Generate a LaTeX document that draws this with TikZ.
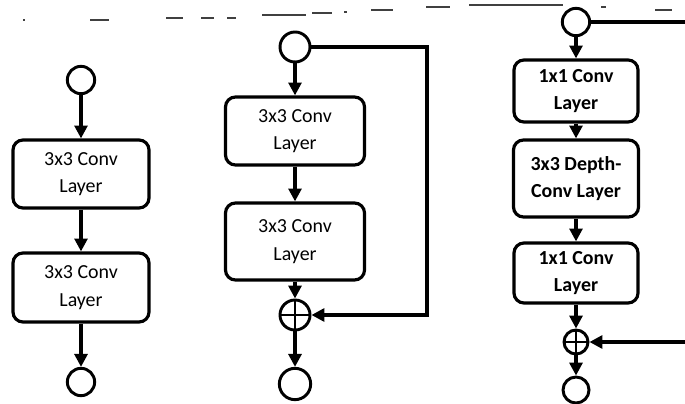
\documentclass[tikz,border=0pt]{standalone}
\usepackage{fontspec}
\setmainfont{Carlito}
\usetikzlibrary{arrows.meta}
\tikzset{
  layer/.style={draw, rounded corners=8.5pt, line width=2.7pt, align=center, inner sep=1pt, font=\fontsize{17}{23.5}\selectfont},
  port/.style={draw, circle, line width=2.5pt, inner sep=0pt, minimum size=0.82cm},
  addop/.style={port, path picture={\draw[line width=2.5pt] (path picture bounding box.north) -- (path picture bounding box.south) (path picture bounding box.west) -- (path picture bounding box.east);}},
  flow/.style={line width=2.7pt, -{Triangle[length=11pt,width=11pt]}},
  link/.style={line width=2.7pt},
  speck/.style={black!75, line width=0.9pt}
}
\begin{document}
\begin{tikzpicture}[x=0.03cm, y=-0.03cm]
\useasboundingbox (0,0) rectangle (685,404);
\draw[speck] (23,20)--(25,20) (90,20)--(109,20) (166,18)--(183,18) (201,18)--(214,18) (227,18)--(236,18);
\draw[speck] (262,15)--(306,15) (312,13)--(332,13) (344,12)--(347,12) (371,10)--(393,10) (426,7)--(450,7);
\draw[speck] (469,5)--(563,5) (601,7)--(606,7) (655,10)--(672,10);
\node[port] (in1) at (81,80) {};
\node[layer, minimum width=4.08cm, minimum height=2.04cm] (c1a) at (81,174) {3x3 Conv\\Layer};
\node[layer, minimum width=4.08cm, minimum height=2.07cm] (c1b) at (81,287.5) {3x3 Conv\\Layer};
\node[port] (out1) at (81,382) {};
\draw[flow] (in1) -- (c1a);
\draw[flow] (c1a) -- (c1b);
\draw[flow] (c1b) -- (out1);
\node[port, minimum size=0.9cm] (in2) at (295,47) {};
\node[layer, minimum width=4.17cm, minimum height=2.04cm] (c2a) at (295,131) {3x3 Conv\\Layer};
\node[layer, minimum width=4.17cm, minimum height=2.31cm] (c2b) at (295,241.5) {3x3 Conv\\Layer};
\node[addop, minimum size=0.9cm] (add2) at (295,315) {};
\node[port, minimum size=0.94cm] (out2) at (295,384) {};
\coordinate (skip2) at (427,180);
\draw[flow] (in2) -- (c2a);
\draw[flow] (c2a) -- (c2b);
\draw[flow] (c2b) -- (add2);
\draw[flow] (add2) -- (out2);
\draw[flow] (in2.east) -| (skip2) |- (add2.east);
\node[port] (in3) at (576,22) {};
\node[layer, font=\fontsize{17}{23.5}\selectfont\bfseries, minimum width=3.72cm, minimum height=1.86cm] (c3a) at (576,91) {1x1 Conv\\Layer};
\node[layer, font=\fontsize{17}{23.5}\selectfont\bfseries, minimum width=3.75cm, minimum height=2.31cm] (c3b) at (576,178.5) {3x3 Depth-\\Conv Layer};
\node[layer, font=\fontsize{17}{23.5}\selectfont\bfseries, minimum width=3.72cm, minimum height=1.8cm] (c3c) at (576,273) {1x1 Conv\\Layer};
\node[addop, minimum size=0.72cm] (add3) at (576,342) {};
\node[port, minimum size=0.78cm] (out3) at (576,390) {};
\coordinate (top3) at (685,22);
\coordinate (bot3) at (685,342);
\draw[flow] (in3) -- (c3a);
\draw[flow] (c3a) -- (c3b);
\draw[flow] (c3b) -- (c3c);
\draw[flow] (c3c) -- (add3);
\draw[flow] (add3) -- (out3);
\draw[link] (in3) -- (top3);
\draw[flow] (bot3) -- (add3);
\end{tikzpicture}
\end{document}
